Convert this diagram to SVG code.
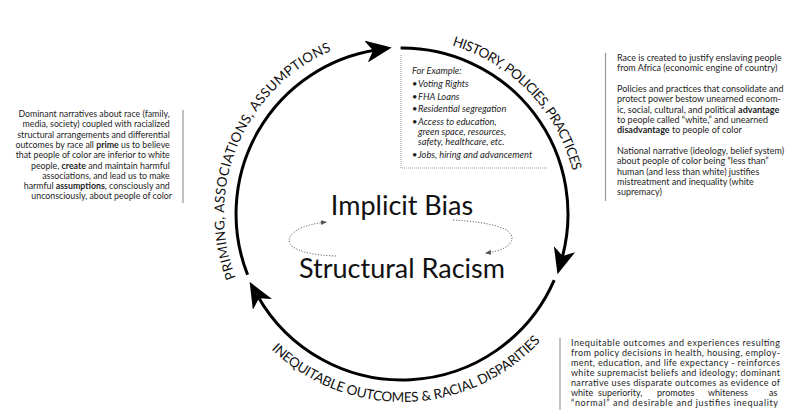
<svg xmlns="http://www.w3.org/2000/svg" width="798" height="420" viewBox="0 0 798 420">
<style>
.body{font-family:Lato,"Liberation Sans",sans-serif;font-size:9px;fill:#1e1e1e}
.sm{font-size:8.8px}
.b{font-weight:700}
.arc{fill:none;stroke:#000;stroke-width:3;marker-end:url(#bigArrow)}
.dot{fill:none;stroke:#666;stroke-width:1;stroke-dasharray:1.2 1.6;marker-end:url(#smallArrow)}
.cap{font-family:Lato,"Liberation Sans",sans-serif;font-size:13.5px;fill:#111}
.big{font-family:Lato,"Liberation Sans",sans-serif;font-size:27px;fill:#111;text-anchor:middle}
.rule{stroke:#999;stroke-width:1.2}
.ex{font-family:Lato,"Liberation Sans",sans-serif;font-size:9.3px;font-style:italic;fill:#1e1e1e}
.box{fill:none;stroke:#999;stroke-width:1;stroke-dasharray:1 1}
</style>
<defs>
<marker id="bigArrow" viewBox="0 0 26 22" refX="10" refY="11" markerWidth="26" markerHeight="22" markerUnits="userSpaceOnUse" orient="auto">
<path d="M0,0 L26,11 L0,22 L7,11 Z" fill="#000"/>
</marker>
<marker id="smallArrow" viewBox="0 0 6 6" refX="5" refY="3" markerWidth="6" markerHeight="6" markerUnits="userSpaceOnUse" orient="auto">
<path d="M0,0.5 L6,3 L0,5.5 Z" fill="#555"/>
</marker>
<path id="pLeft" d="M235.8,277.8 A178,178 0 0 1 355.9,42.1"/>
<path id="pTop" d="M452.0,45.3 A176,176 0 0 1 576.3,189.5"/>
<path id="pBottom" d="M271.4,349.2 A188,188 0 0 0 550.1,329.7"/>
</defs>

<g id="connectors">
<path class="arc" d="M247.6,274.8 A166,166 0 0 1 376.0,50.0"/>
<path class="arc" d="M400.6,48.0 A166,166 0 0 1 561.8,258.9"/>
<path class="arc" d="M554.2,280.2 A166,166 0 0 1 257.5,295.7"/>
<path class="dot" d="M336,256 C300,255 285,246 290,237 C294,229 309,224 326,222"/>
<path class="dot" d="M453,220 C490,222 512,228 512,238 C512,246 501,251 486,253"/>
</g>

<g id="label-priming">
<text class="cap"><textPath href="#pLeft" textLength="272" lengthAdjust="spacing">PRIMING, ASSOCIATIONS, ASSUMPTIONS</textPath></text>
</g>
<g id="label-history">
<text class="cap"><textPath href="#pTop" textLength="182" lengthAdjust="spacing">HISTORY, POLICIES, PRACTICES</textPath></text>
</g>
<g id="label-inequitable">
<text class="cap"><textPath href="#pBottom" textLength="300" lengthAdjust="spacing">INEQUITABLE OUTCOMES &amp; RACIAL DISPARITIES</textPath></text>
</g>

<g id="implicit-bias">
<text class="big" x="402" y="215">Implicit Bias</text>
</g>
<g id="structural-racism">
<text class="big" x="402" y="278">Structural Racism</text>
</g>

<g id="examples">
<path class="box" d="M401,55 V168 H548"/>
<text class="ex" x="412" y="74">For Example:</text>
<text class="ex" x="412" y="87">•</text><text class="ex" x="418" y="87">Voting Rights</text>
<text class="ex" x="412" y="100">•</text><text class="ex" x="418" y="100">FHA Loans</text>
<text class="ex" x="412" y="112">•</text><text class="ex" x="418" y="112">Residential segregation</text>
<text class="ex" x="412" y="125">•</text><text class="ex" x="418" y="125">Access to education,</text>
<text class="ex" x="418" y="135">green space, resources,</text>
<text class="ex" x="418" y="145">safety, healthcare, etc.</text>
<text class="ex" x="412" y="158">•</text><text class="ex" x="418" y="158">Jobs, hiring and advancement</text>
</g>

<g id="note-left">
<line class="rule" x1="183" y1="110" x2="183" y2="203"/>
<text class="body sm" text-anchor="end">
<tspan x="172" y="117">Dominant narratives about race (family,</tspan>
<tspan x="172" y="127.3">media, society) coupled with racialized</tspan>
<tspan x="172" y="137.6">structural arrangements and differential</tspan>
<tspan x="172" y="147.9">outcomes by race all <tspan class="b">prime</tspan> us to believe</tspan>
<tspan x="172" y="158.2">that people of color are inferior to white</tspan>
<tspan x="172" y="168.5">people, <tspan class="b">create</tspan> and maintain harmful</tspan>
<tspan x="172" y="178.8">associations, and lead us to make</tspan>
<tspan x="172" y="189.1">harmful <tspan class="b">assumptions</tspan>, consciously and</tspan>
<tspan x="172" y="199.4">unconsciously, about people of color</tspan>
</text>
</g>

<g id="note-right">
<line class="rule" x1="605.5" y1="53" x2="605.5" y2="201"/>
<text class="body">
<tspan x="617" y="61">Race is created to justify enslaving people</tspan>
<tspan x="617" y="71.3">from Africa (economic engine of country)</tspan>
<tspan x="617" y="92">Policies and practices that consolidate and</tspan>
<tspan x="617" y="102.3">protect power bestow unearned econom-</tspan>
<tspan x="617" y="112.6">ic, social, cultural, and political <tspan class="b">advantage</tspan></tspan>
<tspan x="617" y="122.9">to people called “white,” and unearned</tspan>
<tspan x="617" y="133.2"><tspan class="b">disadvantage</tspan> to people of color</tspan>
<tspan x="617" y="154">National narrative (ideology, belief system)</tspan>
<tspan x="617" y="164.3">about people of color being “less than”</tspan>
<tspan x="617" y="174.6">human (and less than white) justifies</tspan>
<tspan x="617" y="184.9">mistreatment and inequality (white</tspan>
<tspan x="617" y="195.2">supremacy)</tspan>
</text>
</g>

<g id="note-bottom">
<line class="rule" x1="560" y1="338" x2="560" y2="410"/>
<text class="body" x="571" y="345.5" textLength="209" lengthAdjust="spacing">Inequitable outcomes and experiences resulting</text>
<text class="body" x="571" y="355.5" textLength="209" lengthAdjust="spacing">from policy decisions in health, housing, employ-</text>
<text class="body" x="571" y="365.5" textLength="209" lengthAdjust="spacing">ment, education, and life expectancy - reinforces</text>
<text class="body" x="571" y="375.5" textLength="209" lengthAdjust="spacing">white supremacist beliefs and ideology; dominant</text>
<text class="body" x="571" y="385.5" textLength="209" lengthAdjust="spacing">narrative uses disparate outcomes as evidence of</text>
<text class="body" y="395.5"><tspan x="571">white</tspan><tspan x="598">superiority,</tspan><tspan x="657">promotes</tspan><tspan x="708">whiteness</tspan><tspan x="769">as</tspan></text>
<text class="body" x="571" y="405.5" textLength="207" lengthAdjust="spacing">“normal” and desirable and  justifies inequality</text>
</g>
</svg>
